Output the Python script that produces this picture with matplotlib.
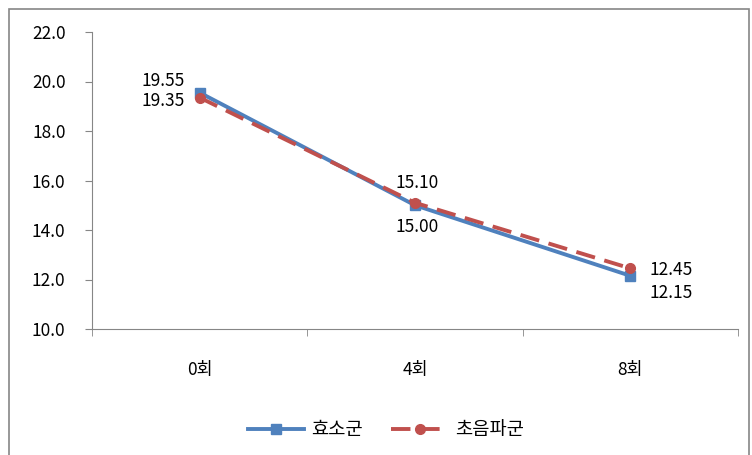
import numpy as np
import matplotlib
matplotlib.use("Agg")
import matplotlib.pyplot as plt
from matplotlib.patches import Rectangle

plt.rcParams['font.family'] = ['Noto Sans CJK KR', 'DejaVu Sans']

#  Data
sessions = ["0회", "4회", "8회"]
oxygen = [19.55, 15.00, 12.15]
ultrasound = [19.35, 15.10, 12.45]
series_names = ["효소군", "초음파군"]

blue = "#4F81BD"
red = "#C0504D"
gray = "#868686"

fig = plt.figure(figsize=(7.52, 4.55), dpi=100)
ax = fig.add_axes([92/752, 1-329/455, (738-92)/752, (329-32)/455])

x = np.arange(len(sessions))
ax.plot(x, oxygen, color=blue, linewidth=2.8, marker='s', markersize=7,
        label=series_names[0], zorder=3)
ax.plot(x, ultrasound, color=red, linewidth=2.8, linestyle=(0, (5, 2.5)),
        marker='o', markersize=7, label=series_names[1], zorder=4)

#  Value labels (pixel offsets from the points)
fs = 12.5
ax.annotate(f"{oxygen[0]:.2f}", (x[0], oxygen[0]), xytext=(-15, 12),
            textcoords='offset pixels', ha='right', va='center', fontsize=fs)
ax.annotate(f"{ultrasound[0]:.2f}", (x[0], ultrasound[0]), xytext=(-15, -3),
            textcoords='offset pixels', ha='right', va='center', fontsize=fs)
ax.annotate(f"{ultrasound[1]:.2f}", (x[1], ultrasound[1]), xytext=(2, 20),
            textcoords='offset pixels', ha='center', va='center', fontsize=fs)
ax.annotate(f"{oxygen[1]:.2f}", (x[1], oxygen[1]), xytext=(2, -22),
            textcoords='offset pixels', ha='center', va='center', fontsize=fs)
ax.annotate(f"{ultrasound[2]:.2f}", (x[2], ultrasound[2]), xytext=(19, -2),
            textcoords='offset pixels', ha='left', va='center', fontsize=fs)
ax.annotate(f"{oxygen[2]:.2f}", (x[2], oxygen[2]), xytext=(19, -17),
            textcoords='offset pixels', ha='left', va='center', fontsize=fs)

ax.set_xlim(-0.5, len(sessions) - 0.5)
ax.set_ylim(10, 22)
ax.set_yticks(np.arange(10, 22.1, 2))
ax.set_yticklabels([f"{v:.1f}" for v in np.arange(10, 22.1, 2)], fontsize=fs)
ax.set_xticks(x)
ax.set_xticklabels(sessions, fontsize=fs)
ax.set_xticks(np.arange(-0.5, len(sessions), 1), minor=True)
ax.tick_params(axis='x', which='major', length=0, pad=23)
ax.tick_params(axis='x', which='minor', length=5, color=gray)
ax.tick_params(axis='y', length=5, color=gray, pad=14)

for s in ['top', 'right']:
    ax.spines[s].set_visible(False)
for s in ['left', 'bottom']:
    ax.spines[s].set_color(gray)

fig.legend(loc='center', bbox_to_anchor=(386/752, 1-430/455), ncol=2,
           frameon=False, fontsize=13.5, handlelength=3.0, columnspacing=1.5,
           handletextpad=0.4)

#  Outer chart frame
fig.patches.append(Rectangle((9/752, -0.01), 740/752, 1-9/455+0.01,
                             transform=fig.transFigure, fill=False,
                             edgecolor=gray, linewidth=1.2))

fig.savefig("out.png", dpi=100)
